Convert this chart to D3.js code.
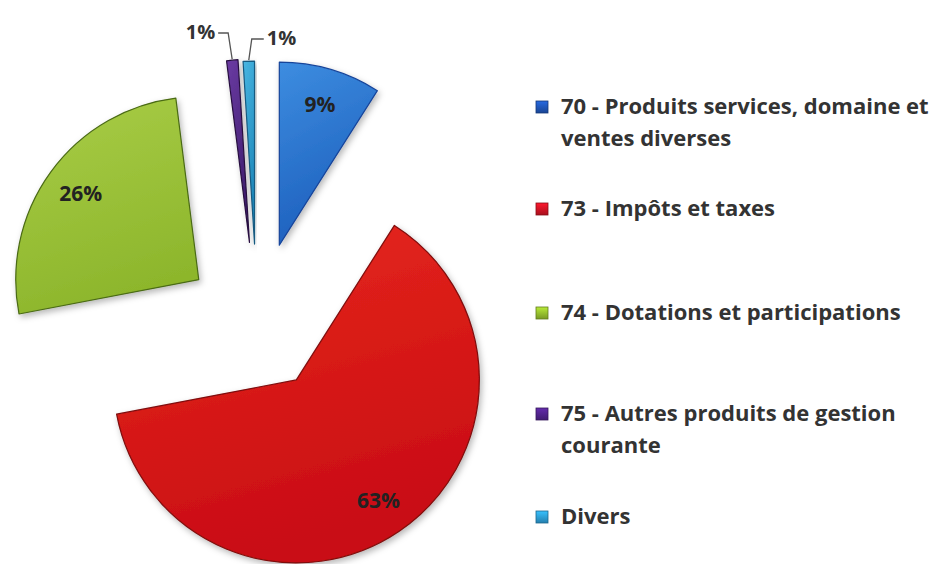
<!DOCTYPE html>
<html>
<head>
<meta charset="utf-8">
<script src="https://cdn.jsdelivr.net/npm/d3@7"></script>
<style>
  html, body { margin: 0; padding: 0; background: #fff; }
  svg { display: block; font-family: "Open Sans", Lato, sans-serif; }
</style>
</head>
<body>
<svg id="chart" width="935" height="564"></svg>
<script>
'use strict';
// chart data
const categories = ["70", "73", "74", "75", "Divers"];
const values = [9, 63, 26, 1, 1];
const legendLines = [
    ["70 - Produits services, domaine et", "ventes diverses"],
    ["73 - Impôts et taxes"],
    ["74 - Dotations et participations"],
    ["75 - Autres produits de gestion", "courante"],
    ["Divers"]
];

// look
const fillTop    = ["#3d8de0", "#e82a1e", "#a9cd47", "#6b3ba3", "#48b6e2"];
const fillBottom = ["#1d5fbd", "#c90c12", "#8db62c", "#3c1b6b", "#1b84b6"];
const strokes    = ["#16449a", "#7e0a0a", "#4a6a14", "#27103f", "#185a80"];
const legendFill = ["#1d50aa", "#c21222", "#8ab12a", "#4b2182", "#2a92c9"];

const cx = 257, cy = 322, radius = 183;
const explode = [80, 70, 72, 80, 78];
const labelR = 146;

const svg = d3.select("#chart");
const defs = svg.append("defs");

defs.append("filter").attr("id", "shadow")
    .attr("x", "-20%").attr("y", "-20%").attr("width", "140%").attr("height", "140%")
    .append("feDropShadow")
        .attr("dx", 2).attr("dy", 3).attr("stdDeviation", 3)
        .attr("flood-color", "#000").attr("flood-opacity", 0.28);

categories.forEach((c, i) => {
    const g = defs.append("linearGradient").attr("id", "grad" + i)
        .attr("x1", 0).attr("y1", 0).attr("x2", 0.3).attr("y2", 1);
    g.append("stop").attr("offset", "0%").attr("stop-color", fillTop[i]);
    g.append("stop").attr("offset", "100%").attr("stop-color", fillBottom[i]);
    const lg = defs.append("linearGradient").attr("id", "lgrad" + i)
        .attr("x1", 0).attr("y1", 0).attr("x2", 0).attr("y2", 1);
    lg.append("stop").attr("offset", "0%").attr("stop-color", d3.color(legendFill[i]).brighter(0.8));
    lg.append("stop").attr("offset", "100%").attr("stop-color", d3.color(legendFill[i]).darker(0.4));
});

const pie = d3.pie().sort(null).value(d => d)(values);
const arc = d3.arc().innerRadius(0).outerRadius(radius);

const dir = a => [Math.sin(a), -Math.cos(a)];
const mid = d => (d.startAngle + d.endAngle) / 2;

const slices = svg.append("g").attr("transform", `translate(${cx},${cy})`);

const sliceG = slices.selectAll(".slice")
    .data(pie)
    .enter().append("g")
        .attr("class", "slice")
        .attr("transform", (d, i) => {
            const [ux, uy] = dir(mid(d));
            return `translate(${ux * explode[i]},${uy * explode[i]})`;
        });

sliceG.append("path")
    .attr("d", arc)
    .attr("fill", (d, i) => `url(#grad${i})`)
    .attr("stroke", (d, i) => strokes[i])
    .attr("stroke-width", 1.2)
    .attr("stroke-linejoin", "round")
    .attr("filter", "url(#shadow)");

// inner labels for the big slices
sliceG.filter(d => d.value >= 5)
    .append("text")
        .attr("x", d => dir(mid(d))[0] * labelR)
        .attr("y", d => dir(mid(d))[1] * labelR)
        .attr("dy", "0.35em")
        .attr("text-anchor", "middle")
        .style("font-size", "21px")
        .style("font-weight", "bold")
        .style("fill", "#222")
        .text(d => d.value + "%");

// outside labels with leader lines for the thin slices
const small = [
    { i: 3, side: -1, lineY: 33 - cy, dx: -4, run: 10 },
    { i: 4, side: 1, lineY: 39 - cy, dx: 3, run: 12 }
];
small.forEach(s => {
    const d = pie[s.i];
    const [ux, uy] = dir(mid(d));
    const ox = ux * (explode[s.i] + radius + 1), oy = uy * (explode[s.i] + radius + 1);
    const p1 = [ox + s.dx, s.lineY];
    const p2 = [p1[0] + s.side * s.run, s.lineY];
    slices.append("path")
        .attr("d", d3.line()([[ox, oy], p1, p2]))
        .attr("fill", "none")
        .attr("stroke", "#555")
        .attr("stroke-width", 1.3);
    slices.append("text")
        .attr("x", p2[0] + s.side * 3)
        .attr("y", s.lineY)
        .attr("dy", "0.3em")
        .attr("text-anchor", s.side < 0 ? "end" : "start")
        .style("font-size", "20px")
        .style("font-weight", "bold")
        .style("fill", "#333")
        .text(d.value + "%");
});

// legend
const legendX = 561, markerX = 536, lineH = 32;
const legendBase = [114, 216, 320, 421, 524];
const legend = svg.append("g").attr("class", "legend");
const item = legend.selectAll(".item")
    .data(legendLines)
    .enter().append("g")
        .attr("class", "item");

item.append("rect")
    .attr("x", markerX)
    .attr("y", (d, i) => legendBase[i] - 13)
    .attr("width", 12)
    .attr("height", 12)
    .attr("fill", (d, i) => `url(#lgrad${i})`)
    .attr("stroke", (d, i) => d3.color(legendFill[i]).darker(1))
    .attr("stroke-width", 0.8);

item.append("text")
    .attr("x", legendX)
    .attr("y", (d, i) => legendBase[i])
    .style("font-size", "22px")
    .style("font-weight", "bold")
    .style("fill", "#333")
    .selectAll("tspan")
    .data(d => d)
    .enter().append("tspan")
        .attr("x", legendX)
        .attr("dy", (t, j) => j === 0 ? 0 : lineH)
        .text(t => t);
</script>
</body>
</html>
